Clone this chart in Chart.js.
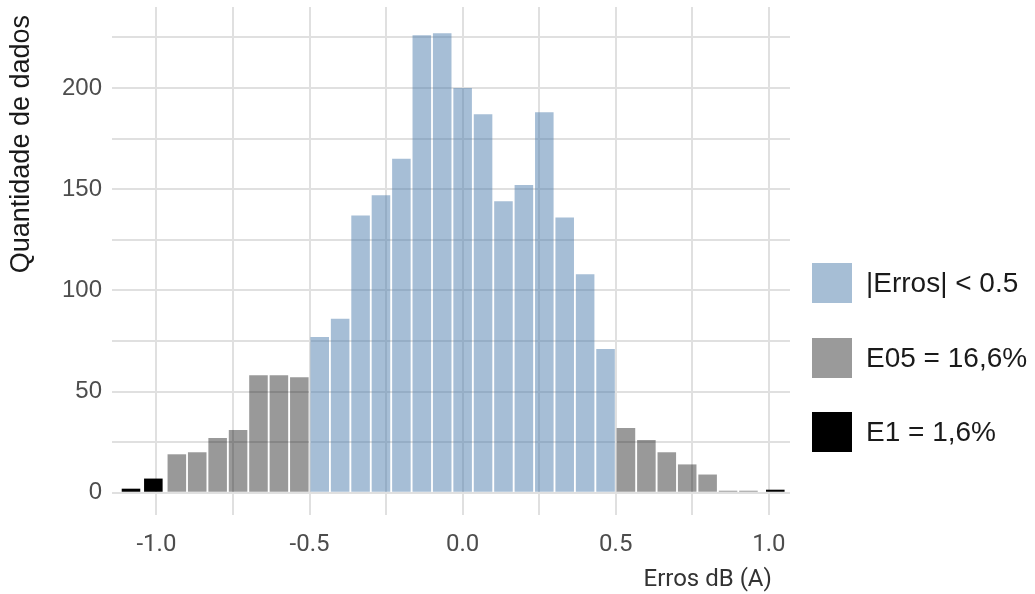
<!DOCTYPE html>
<html>
<head>
<meta charset="utf-8">
<script src="https://cdn.jsdelivr.net/npm/chart.js@4.4.1/dist/chart.umd.min.js"></script>
<style>
  html, body { margin: 0; padding: 0; background: #fff; }
  #wrap { width: 1035px; height: 594px; position: relative; }
</style>
</head>
<body>
<div id="wrap"><canvas id="histChart"></canvas></div>
<script>
// bin centres (Erros dB(A)) and counts
const blueBins = [-0.4667, -0.4, -0.3333, -0.2667, -0.2, -0.1333, -0.0667, 0, 0.0667, 0.1333, 0.2, 0.2667, 0.3333, 0.4, 0.4667];
const blueCounts = [77, 86, 137, 147, 165, 226, 227, 200, 187, 144, 152, 188, 136, 108, 71];

const grayBins = [-0.9333, -0.8667, -0.8, -0.7333, -0.6667, -0.6, -0.5333, 0.5333, 0.6, 0.6667, 0.7333, 0.8, 0.8667, 0.9333];
const grayCounts = [19, 20, 27, 31, 58, 58, 57, 32, 26, 20, 14, 9, 1, 1];

const blackBins = [-1.083, -1.01, 1.021];
const blackCounts = [2, 7, 1.5];

const seriesLabels = ['|Erros| < 0.5', 'E05 = 16,6%', 'E1 = 1,6%'];
const seriesColors = ['rgba(70, 120, 170, 0.48)', 'rgba(0, 0, 0, 0.4)', '#000000'];
const legendColors = ['#a6bed5', '#9a9a9a', '#000000'];

const xTicks = [-1, -0.75, -0.5, -0.25, 0, 0.25, 0.5, 0.75, 1];
const yTicks = [0, 25, 50, 75, 100, 125, 150, 175, 200, 225];

const toPoints = (xs, ys) => xs.map((x, i) => ({ x: x, y: ys[i] }));

const GRID = '#e0e0e0';

// legend, y title and x title drawn around the plot
const sideText = {
    id: 'sideText',
    afterDraw(chart) {
        const ctx = chart.ctx;
        const area = chart.chartArea;
        const xScale = chart.scales.x;
        ctx.save();

        const boxX = area.right + 22;
        const rowY = [283, 358, 432];
        chart.data.datasets.forEach((ds, i) => {
            ctx.fillStyle = legendColors[i];
            ctx.fillRect(boxX, rowY[i] - 20, 40, 40);
            ctx.fillStyle = '#1a1a1a';
            ctx.font = '28px "Liberation Sans", Arial, sans-serif';
            ctx.textAlign = 'left';
            ctx.textBaseline = 'middle';
            ctx.fillText(ds.label, boxX + 54, rowY[i] + 1);
        });

        ctx.fillStyle = '#333333';
        ctx.font = '24px Roboto, sans-serif';
        ctx.textAlign = 'right';
        ctx.textBaseline = 'middle';
        ctx.fillText('Erros dB (A)', xScale.getPixelForValue(1) + 3, 580);

        // y axis title, top aligned a little below the panel top
        ctx.translate(22, area.top + 8);
        ctx.rotate(-Math.PI / 2);
        ctx.fillStyle = '#1a1a1a';
        ctx.font = '27px "Liberation Sans", Arial, sans-serif';
        ctx.textAlign = 'right';
        ctx.textBaseline = 'middle';
        ctx.fillText('Quantidade de dados', 0, 0);
        ctx.restore();
    }
};

new Chart(document.getElementById('histChart'), {
    type: 'bar',
    data: {
        datasets: [
            { label: seriesLabels[0], data: toPoints(blueBins, blueCounts), backgroundColor: seriesColors[0], grouped: false },
            { label: seriesLabels[1], data: toPoints(grayBins, grayCounts), backgroundColor: seriesColors[1], grouped: false },
            { label: seriesLabels[2], data: toPoints(blackBins, blackCounts), backgroundColor: seriesColors[2], grouped: false }
        ]
    },
    options: {
        responsive: true,
        maintainAspectRatio: false,
        animation: false,
        layout: { padding: { top: 7, right: 245, bottom: 0, left: 0 } },
        datasets: { bar: { barPercentage: 0.91, categoryPercentage: 1, borderWidth: 0 } },
        plugins: { legend: { display: false }, tooltip: { enabled: false } },
        scales: {
            x: {
                type: 'linear',
                min: -1.145,
                max: 1.069,
                offset: false,
                afterBuildTicks: (scale) => { scale.ticks = xTicks.map(v => ({ value: v })); },
                afterFit: (scale) => { scale.height = 79; },
                grid: { color: GRID, lineWidth: 2, drawTicks: false, offset: false },
                border: { display: false },
                ticks: {
                    padding: 16,
                    color: '#4d4d4d',
                    font: { family: 'Roboto, sans-serif', size: 24 },
                    callback: (v) => (Math.abs(v * 2 - Math.round(v * 2)) < 1e-6 ? v.toFixed(1) : '')
                }
            },
            y: {
                min: -11,
                max: 240,
                afterBuildTicks: (scale) => { scale.ticks = yTicks.map(v => ({ value: v })); },
                afterFit: (scale) => { scale.width = 112; scale.paddingTop = 0; scale.paddingBottom = 0; },
                grid: { color: GRID, lineWidth: 2, drawTicks: false },
                border: { display: false },
                ticks: {
                    padding: 10,
                    color: '#4d4d4d',
                    font: { family: '"Liberation Sans", Arial, sans-serif', size: 24 },
                    callback: (v) => (v % 50 === 0 ? String(v) : '')
                }
            }
        }
    },
    plugins: [sideText]
});
</script>
</body>
</html>
